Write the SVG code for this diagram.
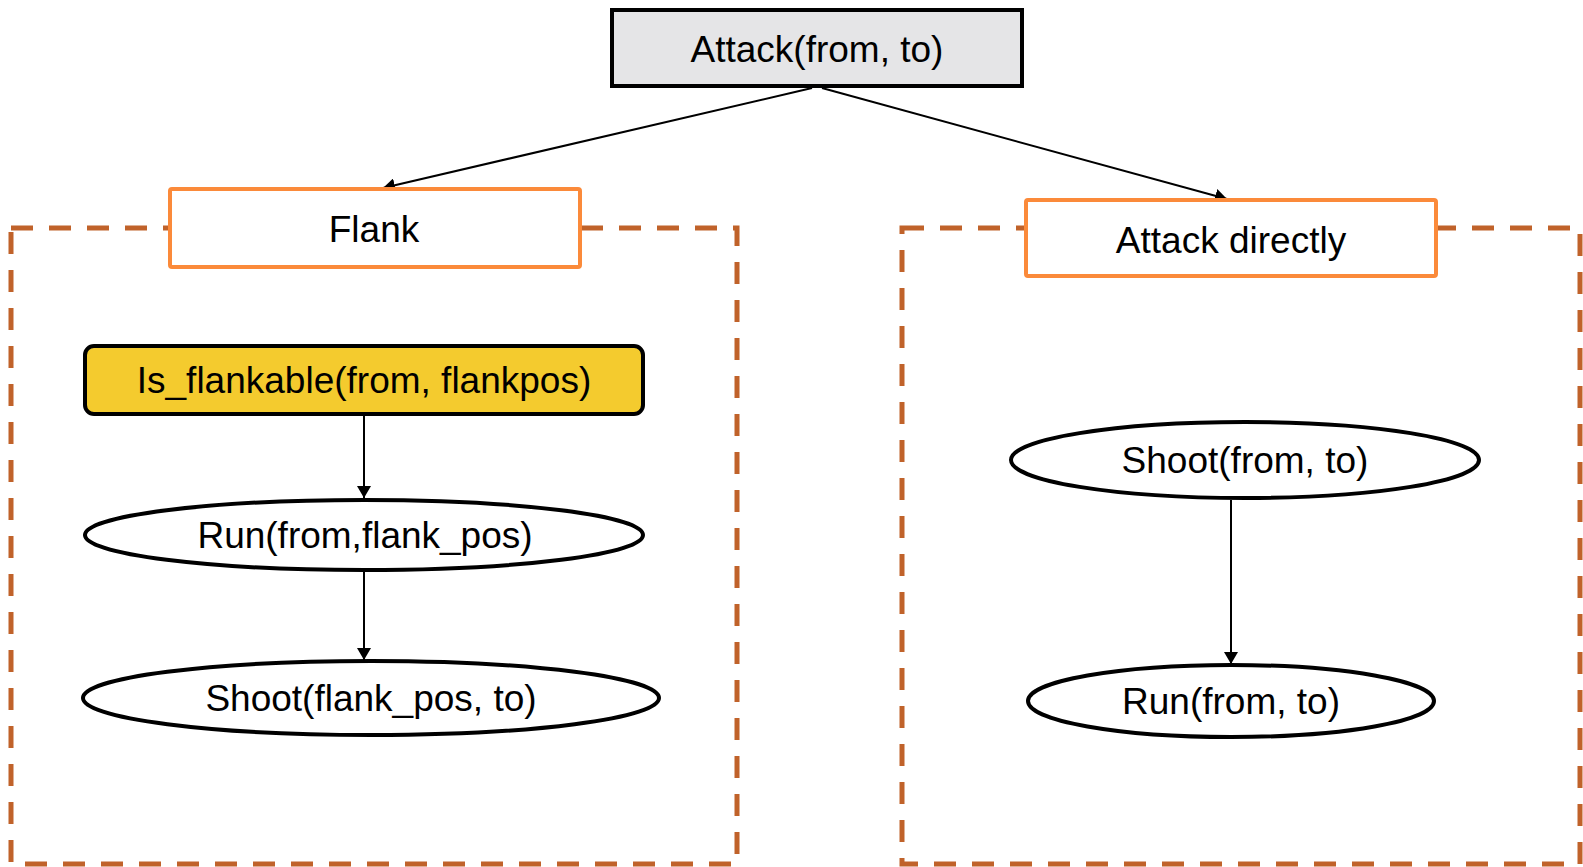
<svg xmlns="http://www.w3.org/2000/svg" width="1583" height="867" viewBox="0 0 1583 867">
<defs>
<marker id="arr" viewBox="0 0 12 14" refX="12" refY="7" markerWidth="12" markerHeight="14" markerUnits="userSpaceOnUse" orient="auto">
<path d="M0,0 L12,7 L0,14 Z" fill="#000"/>
</marker>
</defs>
<style>
text{font-family:"Liberation Sans",Arial,sans-serif;font-size:37px;fill:#000;text-anchor:middle;dominant-baseline:central}
.grp{fill:none;stroke:#c0622a;stroke-width:5;stroke-dasharray:22 16}
.orange{fill:#fff;stroke:#fb8a3a;stroke-width:4}
.node{stroke:#000;stroke-width:4}
.edge{stroke:#000;stroke-width:2;fill:none;marker-end:url(#arr)}
</style>
<rect width="1583" height="867" fill="#fff"/>
<g id="group-flank">
<rect class="grp" x="11" y="228" width="726" height="636"/>
</g>
<g id="group-direct">
<rect class="grp" x="902" y="228" width="678" height="636"/>
</g>
<g id="connectors">
<line class="edge" x1="812" y1="88" x2="383" y2="188"/>
<line class="edge" x1="822" y1="88" x2="1227" y2="199"/>
<line class="edge" x1="364" y1="414" x2="364" y2="498"/>
<line class="edge" x1="364" y1="572" x2="364" y2="660"/>
<line class="edge" x1="1231" y1="500" x2="1231" y2="664"/>
</g>
<g id="attack">
<rect class="node" x="612" y="10" width="410" height="76" fill="#e5e5e7"/>
<text x="817" y="49">Attack(from, to)</text>
</g>
<g id="flank">
<rect class="orange" x="170" y="189" width="410" height="78" rx="2"/>
<text x="374" y="229">Flank</text>
</g>
<g id="attack-directly">
<rect class="orange" x="1026" y="200" width="410" height="76" rx="2"/>
<text x="1231" y="240">Attack directly</text>
</g>
<g id="is-flankable">
<rect class="node" x="85" y="346" width="558" height="68" rx="9" fill="#f4cb2e"/>
<text x="364" y="380">Is_flankable(from, flankpos)</text>
</g>
<g id="run-flank">
<ellipse class="node" cx="364" cy="535" rx="279" ry="35" fill="#fff"/>
<text x="365" y="535">Run(from,flank_pos)</text>
</g>
<g id="shoot-flank">
<ellipse class="node" cx="371" cy="698" rx="288" ry="37" fill="#fff"/>
<text x="371" y="698">Shoot(flank_pos, to)</text>
</g>
<g id="shoot-direct">
<ellipse class="node" cx="1245" cy="460" rx="234" ry="38" fill="#fff"/>
<text x="1245" y="460">Shoot(from, to)</text>
</g>
<g id="run-direct">
<ellipse class="node" cx="1231" cy="701" rx="203" ry="36" fill="#fff"/>
<text x="1231" y="701">Run(from, to)</text>
</g>
</svg>
